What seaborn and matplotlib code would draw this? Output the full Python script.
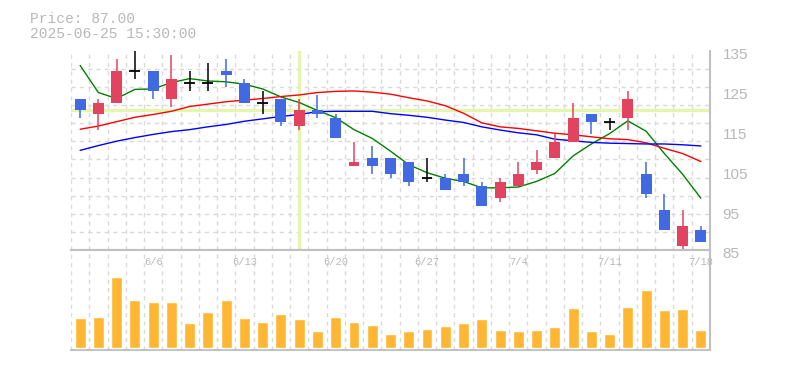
import numpy as np
import pandas as pd
import matplotlib
matplotlib.use("Agg")
import matplotlib.pyplot as plt
import matplotlib.transforms as mtransforms
import seaborn as sns

# daily candles, 2025-06-02 .. 2025-07-18 (business days)
start_date = "2025-06-02"
end_date = "2025-07-18"

opens = [123, 119, 122, 130, 130, 123, 127, 127, 130, 127, 122, 123, 116, 120, 118,
         106, 108, 108, 107, 103, 103, 104, 101, 98, 101, 105, 108, 112, 119, 117,
         118, 104, 95, 86, 90]
highs = [123, 123, 133, 135, 130, 134, 130, 132, 133, 128, 125, 123, 123, 124, 119,
         112, 111, 108, 107, 108, 104, 108, 102, 103, 107, 110, 114, 122, 119, 118,
         125, 107, 99, 95, 91]
lows = [118, 115, 122, 128, 123, 121, 125, 125, 126, 122, 119, 116, 115, 118, 113,
        106, 104, 103, 101, 102, 100, 101, 96, 97, 101, 104, 108, 112, 114, 115,
        115, 98, 90, 85, 87]
closes = [120, 122, 130, 130, 125, 128, 127, 127, 129, 122, 122, 117, 120, 119, 113,
          107, 106, 104, 102, 103, 100, 102, 96, 102, 104, 107, 112, 118, 117, 117,
          123, 99, 90, 91, 87]
volumes = [30, 31, 71, 48, 46, 46, 25, 36, 48, 30, 26, 34, 29, 17, 31, 26, 23, 14,
           17, 19, 22, 25, 29, 18, 17, 18, 21, 40, 17, 14, 41, 58, 38, 39, 18]

# moving averages
ma_short = [131.3, 124.5, 123.0, 125.3, 125.4, 127.0, 128.0, 127.4, 127.2, 126.6,
            125.4, 123.4, 122.0, 120.0, 118.2, 115.2, 113.0, 109.8, 106.4, 104.4,
            103.0, 102.2, 100.6, 100.6, 100.8, 102.2, 104.2, 108.6, 111.6, 114.2,
            117.4, 114.8, 109.2, 104.0, 98.0]
ma_mid = [115.3, 116.1, 117.2, 118.3, 119.0, 119.8, 121.0, 121.6, 122.2, 122.6,
          123.0, 123.5, 123.9, 124.5, 124.8, 124.9, 124.6, 124.1, 123.2, 122.4,
          121.2, 119.3, 116.9, 115.9, 115.5, 114.9, 114.3, 113.9, 113.4, 112.9,
          112.7, 111.9, 110.5, 109.2, 107.2]
ma_long = [110.0, 111.2, 112.3, 113.2, 114.0, 114.7, 115.2, 115.9, 116.5, 117.3,
           117.9, 118.5, 119.0, 119.7, 119.8, 119.8, 119.8, 119.2, 118.8, 118.3,
           117.6, 117.0, 115.9, 115.1, 114.4, 113.9, 112.8, 112.4, 112.0, 111.8,
           111.7, 111.6, 111.6, 111.4, 111.1]

price_ticks = [85, 95, 105, 115, 125, 135]
cursor_index = 12
header_lines = ["Price: 87.00", "2025-06-25 15:30:00"]

UP = "#e2445f"
DOWN = "#4169e1"
VOL = "#ffb733"
GRID = "#dadada"
SPINE = "#c0c0c0"
LABEL = "#b8b8b8"
CURSOR = "#e4f5b0"

sns.set_style("white")
plt.rcParams["font.family"] = ["Liberation Mono", "DejaVu Sans Mono"]

dates = pd.bdate_range(start_date, end_date)
idx = np.arange(len(closes))
o = np.array(opens, float)
c = np.array(closes, float)
colors = np.where(c > o, UP, np.where(c < o, DOWN, "black"))

fig = plt.figure(figsize=(7.85, 3.7), dpi=100)
ax = fig.add_axes([71 / 785, 1 - 250 / 370, 639 / 785, 199.3 / 370])
ax_vol = fig.add_axes([71 / 785, 1 - 350 / 370, 639 / 785, 100 / 370])

# cursor lines
ax.axvline(cursor_index, color=CURSOR, lw=2.4, zorder=1)
ax.axhline(closes[cursor_index], color=CURSOR, lw=2.4, zorder=1)

# moving averages
sns.lineplot(x=idx, y=ma_short, color="#008000", lw=1, ax=ax, zorder=2)
sns.lineplot(x=idx, y=ma_mid, color="#ff0000", lw=1, ax=ax, zorder=2)
sns.lineplot(x=idx, y=ma_long, color="#0000ff", lw=1, ax=ax, zorder=2)

# candles
ax.vlines(idx, lows, highs, colors=colors, lw=1.1, zorder=3)
body = c != o
ax.bar(idx[body], np.abs(c - o)[body], bottom=np.minimum(o, c)[body], width=0.6,
       color=colors[body], linewidth=0, zorder=4)
ax.hlines(c[~body], idx[~body] - 0.3, idx[~body] + 0.3, colors="black", lw=1.3, zorder=4)

ax.set_xlim(-0.5, len(closes) - 0.5)
ax.set_ylim(85, 135)
ax.set_xticks([])
ax.set_xticks(idx - 0.5, minor=True)
ax.set_yticks(price_ticks)
ax.set_yticks(np.linspace(85, 135, 12), minor=True)
ax.grid(False)
ax.grid(which="minor", color=GRID, ls=(0, (3, 3)), lw=1)
ax.yaxis.tick_right()
ax.tick_params(which="both", length=0)
ax.tick_params(axis="y", labelcolor=LABEL, labelsize=11, pad=9)
for lab in ax.get_yticklabels():
    lab.set_fontfamily("Liberation Sans")
    lab.set_transform(lab.get_transform() +
                      mtransforms.ScaledTranslation(0, -3 / 100, fig.dpi_scale_trans))
ax.set_xlabel("")
ax.set_ylabel("")
for side in ["left", "top"]:
    ax.spines[side].set_visible(False)
for side in ["right", "bottom"]:
    ax.spines[side].set_color(SPINE)
    ax.spines[side].set_linewidth(1.5)

# volume
sns.barplot(x=idx, y=volumes, color=VOL, saturation=1, width=0.6, ax=ax_vol, zorder=3)
ax_vol.set_xlim(-0.5, len(closes) - 0.5)
ax_vol.set_ylim(-2, 98)
ax_vol.set_xticks([])
ax_vol.set_xticks(idx - 0.5, minor=True)
ax_vol.set_yticks([])
ax_vol.grid(False)
ax_vol.grid(which="minor", axis="x", color=GRID, ls=(0, (3, 3)), lw=1)
ax_vol.tick_params(which="both", length=0)
ax_vol.set_xlabel("")
ax_vol.set_ylabel("")
ax_vol.spines["left"].set_visible(False)
for side in ["right", "bottom", "top"]:
    ax_vol.spines[side].set_color(SPINE)
    ax_vol.spines[side].set_linewidth(1.5)

for i, d in enumerate(dates):
    if d.weekday() == 4:
        ax_vol.text(i, 0.88, f"{d.month}/{d.day}", transform=ax_vol.get_xaxis_transform(),
                    ha="center", va="center", fontsize=7.5, color=LABEL)

fig.text(30 / 785, 1 - 23 / 370, header_lines[0], fontsize=10.5, color=LABEL, va="baseline")
fig.text(30 / 785, 1 - 37.5 / 370, header_lines[1], fontsize=10.5, color=LABEL, va="baseline")

fig.savefig("out.png", dpi=100)
